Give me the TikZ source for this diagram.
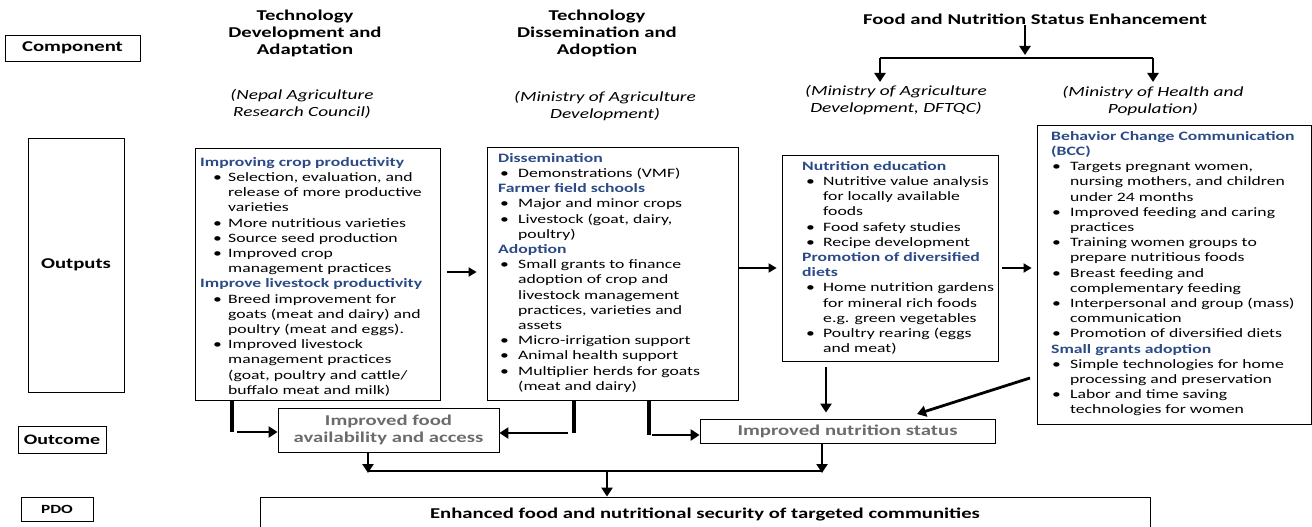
\documentclass[tikz,border=0pt]{standalone}
\usepackage{fontspec}
\setmainfont{Carlito}[FakeStretch=1.38]
\usetikzlibrary{arrows.meta,fit}
\definecolor{ttl}{HTML}{2B4A86}
\definecolor{outg}{HTML}{6B6B6B}
\newlength\bulpos
\newlength\bultxt
\newcommand\setbul[2]{\global\bulpos=#1\relax\global\bultxt=#2\relax}
\newcommand\BulLine{\makebox[\bultxt][l]{\hspace*{\bulpos}\textbullet}}
\newcommand\BulIn{\hspace*{\bultxt}}
\newcommand\TitleB[1]{{\bfseries\color{ttl}#1}}
\newcommand\firstl{\rule{0pt}{10pt}}
\begin{document}
\begin{tikzpicture}[x=1pt,y=-1pt,
  frame/.style={draw=black, line width=0.8pt, inner sep=0pt},
  lab/.style={font=\fontsize{15}{17}\selectfont\bfseries},
  head/.style={align=center, font=\fontsize{15}{17}\selectfont\bfseries},
  agency/.style={align=center, font=\fontsize{14}{17}\selectfont\itshape},
  body/.style={anchor=north west, align=left, inner sep=0pt, font=\fontsize{12.8}{15.2}\selectfont},
  outtxt/.style={align=center, text=outg, font=\fontsize{15}{17.5}\selectfont\bfseries},
  thin arrow/.style={line width=1.8pt, -{Triangle[length=8pt,width=9pt]}},
  thick arrow/.style={line width=2.8pt, -{Triangle[length=9pt,width=11pt]}},
  bar/.style={line width=4pt},
  link/.style={line width=2.8pt}]
\useasboundingbox (0,0) rectangle (1312,527);

% left labels
\node[frame, fit={(5,35) (140,61)}] (comp) {};
\node[lab] (compt) at (comp) {Component};
\node[frame, fit={(28,138) (124,392)}] (outs) {};
\node[lab] (outst) at (outs) {Outputs};
\node[frame, fit={(18,426) (106,453)}] (outc) {};
\node[lab, font=\fontsize{14.5}{17}\selectfont\bfseries] (outct) at (outc) {Outcome};
\node[frame, fit={(21,497) (93,521)}] (pdo) {};
\node[font=\fontsize{12.5}{15}\selectfont\bfseries] (pdot) at (pdo) {PDO};

% headers
\node[head] (h1) at (305,33) {Technology\\Development and\\Adaptation};
\node[agency] (a1) at (302,104) {(Nepal Agriculture\\Research Council)};
\node[head] (h2) at (597,33) {Technology\\Dissemination and\\Adoption};
\node[agency] (a2) at (605,106) {(Ministry of Agriculture\\Development)};
\node[head] (h3) at (1035,19) {Food and Nutrition Status Enhancement};
\node[agency] (a3) at (896,100) {(Ministry of Agriculture\\Development, DFTQC)};
\node[agency] (a4) at (1153,101) {(Ministry of Health and\\Population)};

\coordinate (j0) at (1025,58);
\coordinate (jl) at (880,58);
\coordinate (jr) at (1153,58);
\draw[thick arrow] ([yshift=-6pt]h3.center -| j0) -- ([yshift=3pt]j0);
\draw[link, line width=2pt] (jl) -- (jr);
\draw[thick arrow] (jl) -- ++(0,24);
\draw[thick arrow] (jr) -- ++(0,24);

% output boxes
\node[frame, fit={(195,148) (440,400)}] (o1) {};
\node[frame, fit={(487,147) (738,400)}] (o2) {};
\node[frame, fit={(782,155) (998,361)}] (o3) {};
\node[frame, fit={(1037,125) (1311.5,424)}] (o4) {};

\node[body] (o1t) at (200,156) {\setbul{13pt}{28pt}\firstl\TitleB{Improving crop productivity}\\
\BulLine Selection, evaluation, and\\
\BulIn release of more productive\\
\BulIn varieties\\
\BulLine More nutritious varieties\\
\BulLine Source seed production\\
\BulLine Improved crop\\
\BulIn management practices\\
\TitleB{Improve livestock productivity}\\
\BulLine Breed improvement for\\
\BulIn goats (meat and dairy) and\\
\BulIn poultry (meat and eggs).\\
\BulLine Improved livestock\\
\BulIn management practices\\
\BulIn (goat, poultry and cattle/\\
\BulIn buffalo meat and milk)};

\node[body] (o2t) at (498,152) {\setbul{2pt}{20pt}\firstl\TitleB{Dissemination}\\
\BulLine Demonstrations (VMF)\\
\TitleB{Farmer field schools}\\
\BulLine Major and minor crops\\
\BulLine Livestock (goat, dairy,\\
\BulIn poultry)\\
\TitleB{Adoption}\\
\BulLine Small grants to finance\\
\BulIn adoption of crop and\\
\BulIn livestock management\\
\BulIn practices, varieties and\\
\BulIn assets\\
\BulLine Micro-irrigation support\\
\BulLine Animal health support\\
\BulLine Multiplier herds for goats\\
\BulIn (meat and dairy)};

\node[body] (o3t) at (802,160) {\setbul{4pt}{21pt}\firstl\TitleB{Nutrition education}\\
\BulLine Nutritive value analysis\\
\BulIn for locally available\\
\BulIn foods\\
\BulLine Food safety studies\\
\BulLine Recipe development\\
\TitleB{Promotion of diversified}\\
\TitleB{diets}\\
\BulLine Home nutrition gardens\\
\BulIn for mineral rich foods\\
\BulIn e.g. green vegetables\\
\BulLine Poultry rearing (eggs\\
\BulIn and meat)};

\node[body] (o4t) at (1051,130) {\setbul{1pt}{19pt}\firstl\TitleB{Behavior Change Communication}\\
\TitleB{(BCC)}\\
\BulLine Targets pregnant women,\\
\BulIn nursing mothers, and children\\
\BulIn under 24 months\\
\BulLine Improved feeding and caring\\
\BulIn practices\\
\BulLine Training women groups to\\
\BulIn prepare nutritious foods\\
\BulLine Breast feeding and\\
\BulIn complementary feeding\\
\BulLine Interpersonal and group (mass)\\
\BulIn communication\\
\BulLine Promotion of diversified diets\\
\TitleB{Small grants adoption}\\
\BulLine Simple technologies for home\\
\BulIn processing and preservation\\
\BulLine Labor and time saving\\
\BulIn technologies for women};

% arrows between outputs
\coordinate (r1) at (0,272);
\coordinate (r2) at (0,268);
\draw[thin arrow] ([xshift=7pt]o1.east |- r1) -- ([xshift=-10pt]o2.west |- r1);
\draw[thin arrow] (o2.east |- r2) -- ([xshift=-5pt]o3.west |- r2);
\draw[thin arrow] ([xshift=4pt]o3.east |- r2) -- ([xshift=-5pt]o4.west |- r2);

% outcome boxes
\node[frame, fit={(278,408) (499,452)}] (food) {};
\node[outtxt] (foodt) at (food) {Improved food\\availability and access};
\node[frame, fit={(700,419) (995,443)}] (nut) {};
\node[outtxt] (nutt) at (nut) {Improved nutrition status};
\node[frame, fit={(260,497) (1150,545)}] (goal) {};
\node[font=\fontsize{15}{17}\selectfont\bfseries] (goalt) at (705,514) {Enhanced food and nutritional security of targeted communities};

% output -> outcome connectors
\coordinate (k1) at (232,432);
\draw[bar] (o1.south -| k1) -- (k1);
\draw[thick arrow] ([xshift=5pt]k1) -- (food.west |- k1);
\coordinate (k2) at (574,433);
\draw[bar] (o2.south -| k2) -- (k2);
\draw[thick arrow] ([xshift=-6pt]k2) -- (food.east |- k2);
\coordinate (k3) at (649,435);
\draw[bar] (o2.south -| k3) -- (k3);
\draw[thick arrow] ([xshift=3pt]k3) -- (nut.west |- k3);
\coordinate (k4) at (826,0);
\draw[thick arrow] ([yshift=-6pt]o3.south -| k4) -- ([yshift=6pt]nut.north -| k4);
\coordinate (d1) at (1030,378);
\coordinate (d2) at (917,414);
\draw[thick arrow] (d1) -- (d2);

% outcome -> PDO
\coordinate (m1) at (368,471);
\coordinate (m2) at (822,471);
\coordinate (m3) at (607,471);
\draw[thick arrow] (food.south -| m1) -- ([yshift=-2pt]m1);
\draw[link] (m1) -- (m2);
\draw[thick arrow] (nut.south -| m2) -- ([yshift=-2pt]m2);
\draw[thick arrow] (m3) -- (goal.north -| m3);
\end{tikzpicture}
\end{document}
